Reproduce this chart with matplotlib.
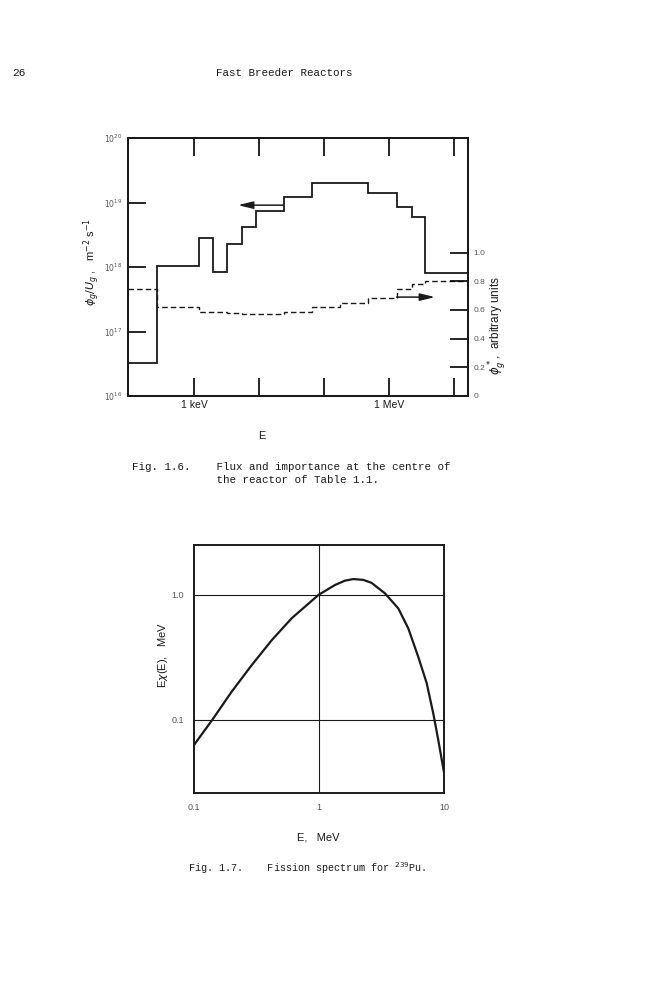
import matplotlib
matplotlib.use('Agg')
import matplotlib.pyplot as plt
from matplotlib.ticker import NullLocator

# --- Fig. 1.6 : group edges (eV), flux and importance per group ---
edges_ev = [96.6, 267, 1.2e3, 1.98e3, 3.25e3, 5.42e3, 8.89e3, 24.2e3, 64.7e3,
            176e3, 481e3, 1.31e6, 2.23e6, 3.58e6, 16.4e6]
flux = [3.3e16, 1.05e18, 2.8e18, 8.5e17, 2.3e18, 4.2e18, 7.3e18, 1.23e19,
        2.0e19, 2.0e19, 1.4e19, 8.6e18, 5.9e18, 8.0e17]
importance = [0.747, 0.623, 0.588, 0.585, 0.576, 0.574, 0.571, 0.588,
              0.619, 0.647, 0.682, 0.745, 0.782, 0.802]
flux_ticks = [1e16, 1e17, 1e18, 1e19, 1e20]
flux_ticklabels = ['$10^{16}$', '$10^{17}$', '$10^{18}$', '$10^{19}$', '$10^{20}$']
imp_ticks = [0, 0.2, 0.4, 0.6, 0.8, 1.0]
imp_ticklabels = ['0', '0.2', '0.4', '0.6', '0.8', '1.0']
e_ticks = [1e3, 1e4, 1e5, 1e6, 1e7]
e_ticklabels = ['1 keV', '', '', '1 MeV', '']
flux_arrow = ((2.35e4, 9.1e18), (4.75e3, 9.1e18))   # (tail, head)
imp_arrow = ((1.31e6, 0.69), (5.1e6, 0.69))

# --- Fig. 1.7 : fission spectrum E*chi(E) ---
fis_e = [0.1, 0.14, 0.20, 0.29, 0.42, 0.605, 0.773, 0.99, 1.34, 1.61, 1.88,
         2.26, 2.63, 3.37, 4.31, 5.18, 6.22, 7.27, 8.2, 9.0, 10.0]
fis_chi = [0.063, 0.1, 0.168, 0.275, 0.436, 0.651, 0.806, 1.0, 1.20, 1.30,
           1.34, 1.32, 1.25, 1.03, 0.78, 0.54, 0.32, 0.197, 0.113, 0.069, 0.038]

W, H = 666, 1000
def px(x, y):
    return x / W, 1 - y / H

mono = 'Liberation Mono'
sans = 'Liberation Sans'
ink = '#1a1a1a'
grey = '#555555'

fig = plt.figure(figsize=(W / 100, H / 100), dpi=100)
fig.patch.set_facecolor('white')

# page header
fig.text(*px(12, 73), '26', family=mono, fontsize=8, color=ink, va='center')
fig.text(*px(284, 73), 'Fast Breeder Reactors', family=mono, fontsize=7.8,
         color=ink, va='center', ha='center')

# ---------------- Fig 1.6 ----------------
ax = fig.add_axes([128 / W, 1 - 396 / H, 340 / W, 258 / H])
ax.set_xscale('log')
ax.set_yscale('log')
ax.stairs(flux, edges_ev, baseline=None, color=ink, lw=1.3)
ax.set_xlim(edges_ev[0], edges_ev[-1])
ax.set_ylim(1e16, 1e20)
ax.set_xticks(e_ticks, e_ticklabels)
ax.set_yticks(flux_ticks, flux_ticklabels)
ax.xaxis.set_minor_locator(NullLocator())
ax.yaxis.set_minor_locator(NullLocator())
ax.tick_params(axis='x', direction='in', length=13, width=1.2, top=True,
               labelsize=7.5, labelcolor=ink, pad=3)
ax.tick_params(axis='y', direction='in', length=13, width=1.2, right=False,
               labelsize=5.5, labelcolor=grey, pad=4)
for t in ax.get_xticklabels() + ax.get_yticklabels():
    t.set_family(sans)
for s in ax.spines.values():
    s.set_linewidth(1.4)
    s.set_color(ink)
ax.annotate('', xy=flux_arrow[1], xytext=flux_arrow[0],
            arrowprops=dict(arrowstyle='-|>,head_length=0.9,head_width=0.22',
                            lw=1.1, color=ink, shrinkA=0, shrinkB=0))

ax2 = ax.twinx()
ax2.stairs(importance, edges_ev, baseline=None, color=ink, lw=1.0,
           linestyle=(0, (4, 2.2)))
ax2.set_ylim(0, 1.8)
ax2.set_yticks(imp_ticks, imp_ticklabels)
ax2.tick_params(axis='y', direction='in', length=13, width=1.2,
                labelsize=6, labelcolor=grey, pad=4)
for t in ax2.get_yticklabels():
    t.set_family(sans)
for s in ax2.spines.values():
    s.set_linewidth(1.4)
    s.set_color(ink)
ax2.annotate('', xy=imp_arrow[1], xytext=imp_arrow[0],
             arrowprops=dict(arrowstyle='-|>,head_length=0.9,head_width=0.22',
                             lw=1.1, color=ink, shrinkA=0, shrinkB=0))

fig.text(*px(92, 262), r'$\phi_g/U_g$ ,   m$^{-2}$ s$^{-1}$', family=sans,
         fontsize=8, color=ink, rotation=90, ha='center', va='center')
fig.text(*px(497, 326), r'$\phi_g^*$,  arbitrary units', family=sans,
         fontsize=8.5, color=ink, rotation=90, ha='center', va='center')
fig.text(*px(262, 436), 'E', family=sans, fontsize=8, color=ink,
         ha='center', va='center')
fig.text(*px(132, 467), 'Fig. 1.6.    Flux and importance at the centre of',
         family=mono, fontsize=7.8, color=ink, va='center')
fig.text(*px(132, 480), '             the reactor of Table 1.1.',
         family=mono, fontsize=7.8, color=ink, va='center')

# ---------------- Fig 1.7 ----------------
bx = fig.add_axes([194 / W, 1 - 793 / H, 250 / W, 248 / H])
bx.set_xscale('log')
bx.set_yscale('log')
bx.set_xlim(0.1, 10)
bx.set_ylim(0.026, 2.51)
bx.axvline(1, color=ink, lw=0.8)
bx.axhline(0.1, color=ink, lw=0.8)
bx.axhline(1.0, color=ink, lw=0.8)
bx.plot(fis_e, fis_chi, color=ink, lw=1.6, solid_joinstyle='round')
bx.set_xticks([0.1, 1, 10], ['0.1', '1', '10'])
bx.set_yticks([0.1, 1.0], ['0.1', '1.0'])
bx.xaxis.set_minor_locator(NullLocator())
bx.yaxis.set_minor_locator(NullLocator())
bx.tick_params(length=0, labelsize=6.5, labelcolor=grey, pad=7)
for t in bx.get_xticklabels() + bx.get_yticklabels():
    t.set_family(sans)
for s in bx.spines.values():
    s.set_linewidth(1.4)
    s.set_color(ink)

fig.text(*px(163, 655), r'E$\chi$(E),   MeV', family=sans, fontsize=8,
         color=ink, rotation=90, ha='center', va='center')
fig.text(*px(318, 838), 'E,   MeV', family=sans, fontsize=8, color=ink,
         ha='center', va='center')
fig.text(*px(188, 868), 'Fig. 1.7.    Fission spectrum for $^{239}$Pu.',
         family=mono, fontsize=7.3, color=ink, va='center')

fig.savefig('out.png', dpi=100, facecolor='white')
